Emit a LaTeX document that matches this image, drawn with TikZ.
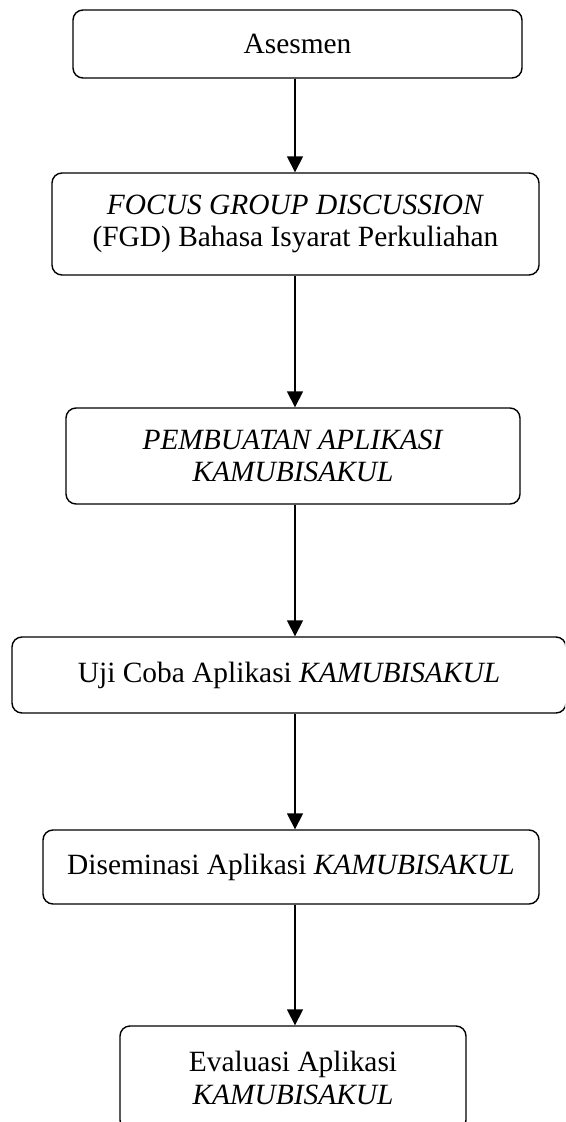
\documentclass[tikz,border=0pt]{standalone}
\usepackage{fontspec}
\setmainfont{Liberation Serif}
\usepackage{tikz}
\usetikzlibrary{arrows.meta}

\begin{document}
\begin{tikzpicture}[
    x=0.015cm, y=-0.015cm,
    stage/.style={rectangle, rounded corners=0.15cm, draw=black, line width=0.6pt, align=center,
        inner sep=0pt, font=\fontsize{12.55pt}{13.8pt}\selectfont},
    arrow/.style={-{Triangle[length=6.8pt, width=6.8pt]}, line width=0.7pt}
]

\useasboundingbox (0,0) rectangle (565,1122);
\clip (0,0) rectangle (565,1122);

% Stages
\node[stage, minimum width=6.735cm, minimum height=1.02cm] (asesmen) at (297.5,44) {Asesmen};
\node[stage, minimum width=7.305cm, minimum height=1.53cm] (fgd) at (295.5,224)
    {\textit{FOCUS GROUP DISCUSSION}\\(FGD) Bahasa Isyarat Perkuliahan};
\node[stage, minimum width=6.81cm, minimum height=1.44cm] (pembuatan) at (293,456)
    {\textit{PEMBUATAN APLIKASI}\\\textit{KAMUBISAKUL}};
\node[stage, minimum width=8.31cm, minimum height=1.14cm] (ujicoba) at (289,675)
    {Uji Coba Aplikasi \textit{KAMUBISAKUL}};
\node[stage, minimum width=7.44cm, minimum height=1.11cm] (diseminasi) at (291,867)
    {Diseminasi Aplikasi \textit{KAMUBISAKUL}};
\node[stage, minimum width=5.19cm, minimum height=1.56cm] (evaluasi) at (293,1078)
    {Evaluasi Aplikasi\\\textit{KAMUBISAKUL}};

% Flow axis
\coordinate (axis) at (295,0);

% Arrows
\draw[arrow] (asesmen.south -| axis) -- (fgd.north -| axis);
\draw[arrow] (fgd.south -| axis) -- (pembuatan.north -| axis);
\draw[arrow] (pembuatan.south -| axis) -- (ujicoba.north -| axis);
\draw[arrow] (ujicoba.south -| axis) -- (diseminasi.north -| axis);
\draw[arrow] (diseminasi.south -| axis) -- (evaluasi.north -| axis);

\end{tikzpicture}
\end{document}
